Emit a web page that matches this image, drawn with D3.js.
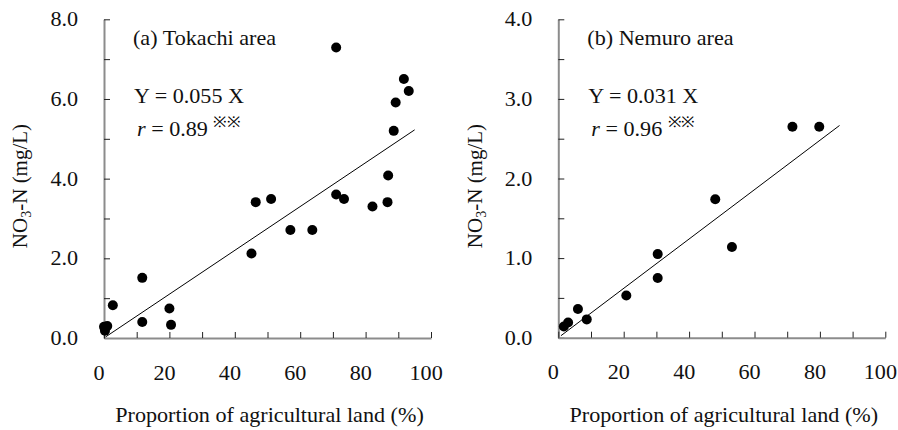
<!DOCTYPE html>
<html lang="en">
<head>
  <meta charset="UTF-8">
  <title>NO3-N vs agricultural land</title>
  <style>
    body { margin: 0; background: #fff; }
    svg text { font-family: "Liberation Serif", "Times New Roman", Times, serif; }
    .domain { stroke: #8c8c8c; stroke-width: 2; }
    .tick line { stroke: #222; stroke-width: 1; }
    .tick text { font-size: 20.5px; fill: #111; }
  </style>
  <script src="https://d3js.org/d3.v7.min.js"></script>
</head>
<body>
  <div id="chart"></div>
  <script>
    // panel (a) Tokachi
    const tokachiX = [0, 0.3, 1.0, 2.7, 11.7, 11.7, 20.0, 20.5, 45.1, 46.4, 51.1, 57.0, 63.7, 71.0, 71.0, 73.4, 82.1, 86.7, 86.9, 88.6, 89.2, 91.7, 93.2];
    const tokachiY = [0.28, 0.18, 0.30, 0.82, 1.51, 0.40, 0.74, 0.33, 2.12, 3.41, 3.49, 2.71, 2.71, 7.29, 3.60, 3.49, 3.30, 3.41, 4.08, 5.20, 5.91, 6.50, 6.20];
    // panel (b) Nemuro
    const nemuroX = [1.7, 3.0, 6.0, 8.7, 20.8, 30.4, 30.4, 48.0, 53.1, 71.6, 79.8];
    const nemuroY = [0.14, 0.19, 0.36, 0.23, 0.53, 1.05, 0.75, 1.74, 1.14, 2.65, 2.65];

    const titles = ["(a) Tokachi area", "(b) Nemuro area"];
    const slopes = [0.055, 0.031];
    const rValues = [0.89, 0.96];
    const fitRange = [[0.5, 95], [0.8, 86]];
    const yMax = [8, 4];
    const yStep = [1, 0.5];
    const yLabelStep = [2, 1];
    const xTicks = [0, 10, 20, 30, 40, 50, 60, 70, 80, 90, 100];
    const xLabels = [0, 20, 40, 60, 80, 100];

    const width = 898, height = 430;
    const stretch = 1.08; // the source type is a little wide
    const svg = d3.select("#chart").append("svg")
        .attr("width", width)
        .attr("height", height);

    const panels = [
      { xs: tokachiX, ys: tokachiY, left: 104, right: 431, bottom: 338, top: 19.3, titleX: 20 },
      { xs: nemuroX, ys: nemuroY, left: 558.3, right: 885.3, bottom: 337.7, top: 19.3, titleX: 475 }
    ];

    function label(parent, x, y, anchor) {
      return parent.append("g")
          .attr("transform", `translate(${x},${y}) scale(${stretch},1)`)
        .append("text")
          .attr("text-anchor", anchor || "start")
          .attr("fill", "#111")
          .style("font-size", "20.5px");
    }

    panels.forEach((p, i) => {
      const x = d3.scaleLinear().domain([0, 100]).range([p.left, p.right]);
      const y = d3.scaleLinear().domain([0, yMax[i]]).range([p.bottom, p.top]);
      const g = svg.append("g");

      const yTicks = d3.range(0, yMax[i] + 1e-9, yStep[i]);
      g.append("g")
          .attr("transform", `translate(${p.left},0)`)
          .call(d3.axisLeft(y)
            .tickValues(yTicks)
            .tickSizeInner(-6)
            .tickSizeOuter(0)
            .tickPadding(24)
            .tickFormat(d => Math.abs(d / yLabelStep[i] - Math.round(d / yLabelStep[i])) < 1e-6 ? d3.format(".1f")(d) : ""))
          .attr("font-family", null)
          .attr("font-size", null)
        .selectAll(".tick text")
          .attr("transform", `scale(${stretch},1)`);

      g.append("g")
          .attr("transform", `translate(0,${p.bottom})`)
          .call(d3.axisBottom(x)
            .tickValues(xTicks)
            .tickSizeInner(-6)
            .tickSizeOuter(0)
            .tickPadding(27)
            .tickFormat(d => xLabels.includes(d) ? d : ""))
          .attr("font-family", null)
          .attr("font-size", null)
        .selectAll(".tick text")
          .attr("dx", -5)
          .attr("transform", `scale(${stretch},1)`);

      // fitted line through origin
      const fit = fitRange[i].map(v => [v, slopes[i] * v]);
      g.append("path")
          .datum(fit)
          .attr("fill", "none")
          .attr("stroke", "#000")
          .attr("stroke-width", 1)
          .attr("d", d3.line().x(d => x(d[0])).y(d => y(d[1])));

      g.append("g")
        .selectAll("circle")
        .data(p.xs.map((v, j) => [v, p.ys[j]]))
        .join("circle")
          .attr("cx", d => x(d[0]))
          .attr("cy", d => y(d[1]))
          .attr("r", 5)
          .attr("fill", "#000");

      // annotations
      label(g, p.left + 29, 45).text(titles[i]);
      label(g, p.left + 30, 103).text(`Y = ${d3.format(".3f")(slopes[i])} X`);
      const rt = label(g, p.left + 33, 136);
      rt.append("tspan").style("font-style", "italic").text("r");
      rt.append("tspan").text(` = ${d3.format(".2f")(rValues[i])} `);
      rt.append("tspan")
          .attr("dy", -9)
          .style("font-size", "15px")
          .attr("fill", "#000")
          .text("※※");

      // axis titles
      const yt = g.append("text")
          .attr("transform", `translate(${p.titleX},186) rotate(-90)`)
          .attr("text-anchor", "middle")
          .attr("dy", "0.35em")
          .style("font-size", "21px")
          .attr("fill", "#111");
      yt.append("tspan").text("NO");
      yt.append("tspan").attr("dy", 4).style("font-size", "14px").text("3");
      yt.append("tspan").attr("dy", -4).text("-N (mg/L)");

      label(g, (p.left + p.right) / 2 + 2, 422, "middle")
          .text("Proportion of agricultural land (%)");
    });
  </script>
</body>
</html>
